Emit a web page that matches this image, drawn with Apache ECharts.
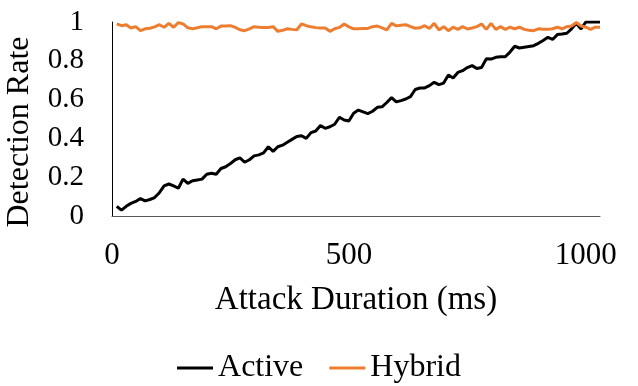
<!DOCTYPE html>
<html>
<head>
<meta charset="utf-8">
<script src="https://cdn.jsdelivr.net/npm/echarts@6/dist/echarts.min.js"></script>
<style>
  html, body { margin: 0; padding: 0; background: #fff; }
  #chart { width: 638px; height: 386px; }
</style>
</head>
<body>
<div id="chart"></div>
<script>
// Attack duration (ms), sampled every 10 ms
const durations = [
  10, 20, 30, 40, 50, 60, 70, 80, 90, 100,
  110, 120, 130, 140, 150, 160, 170, 180, 190, 200,
  210, 220, 230, 240, 250, 260, 270, 280, 290, 300,
  310, 320, 330, 340, 350, 360, 370, 380, 390, 400,
  410, 420, 430, 440, 450, 460, 470, 480, 490, 500,
  510, 520, 530, 540, 550, 560, 570, 580, 590, 600,
  610, 620, 630, 640, 650, 660, 670, 680, 690, 700,
  710, 720, 730, 740, 750, 760, 770, 780, 790, 800,
  810, 820, 830, 840, 850, 860, 870, 880, 890, 900,
  910, 920, 930, 940, 950, 960, 970, 980, 990, 1000,
  1010, 1020, 1030
];

// Detection rate of the active scheme
const activeRate = [
  0.050, 0.030, 0.050, 0.065, 0.075, 0.090, 0.078, 0.085, 0.095, 0.120,
  0.155, 0.165, 0.155, 0.143, 0.190, 0.168, 0.182, 0.186, 0.190, 0.215,
  0.220, 0.215, 0.245, 0.254, 0.270, 0.290, 0.300, 0.277, 0.290, 0.310,
  0.315, 0.325, 0.357, 0.333, 0.357, 0.365, 0.380, 0.395, 0.410, 0.414,
  0.400, 0.430, 0.438, 0.466, 0.452, 0.460, 0.473, 0.509, 0.495, 0.490,
  0.530, 0.546, 0.537, 0.528, 0.540, 0.560, 0.563, 0.585, 0.610, 0.588,
  0.595, 0.603, 0.615, 0.652, 0.660, 0.660, 0.672, 0.689, 0.677, 0.685,
  0.727, 0.711, 0.740, 0.749, 0.765, 0.775, 0.760, 0.765, 0.810, 0.809,
  0.818, 0.821, 0.821, 0.845, 0.875, 0.866, 0.870, 0.874, 0.878, 0.890,
  0.905, 0.921, 0.910, 0.935, 0.938, 0.942, 0.965, 0.993, 0.964, 1.000,
  1.000, 1.000, 1.000
];

// Detection rate of the hybrid scheme
const hybridRate = [
  0.990, 0.981, 0.986, 0.969, 0.976, 0.955, 0.965, 0.968, 0.975, 0.986,
  0.973, 0.993, 0.973, 0.997, 0.990, 0.970, 0.965, 0.970, 0.976, 0.976,
  0.976, 0.965, 0.979, 0.980, 0.981, 0.972, 0.960, 0.955, 0.965, 0.976,
  0.973, 0.972, 0.972, 0.976, 0.952, 0.957, 0.965, 0.962, 0.960, 0.990,
  0.981, 0.975, 0.971, 0.969, 0.969, 0.952, 0.965, 0.972, 0.990, 0.975,
  0.965, 0.965, 0.966, 0.967, 0.976, 0.979, 0.970, 0.959, 0.993, 0.980,
  0.983, 0.986, 0.976, 0.968, 0.970, 0.981, 0.966, 0.993, 0.959, 0.976,
  0.955, 0.973, 0.962, 0.976, 0.964, 0.969, 0.976, 0.990, 0.962, 0.993,
  0.962, 0.976, 0.962, 0.973, 0.965, 0.973, 0.962, 0.958, 0.955, 0.965,
  0.963, 0.962, 0.965, 0.973, 0.965, 0.976, 0.979, 0.997, 0.979, 0.973,
  0.962, 0.973, 0.973
];

const xTicks = [0, 500, 1000];
const seriesNames = ['Active', 'Hybrid'];
const seriesColors = ['#000000', '#ED7D31'];

const pair = (xs, ys) => xs.map((x, i) => [x, ys[i]]);
const FONT = '"Liberation Serif", "Times New Roman", serif';

const chart = echarts.init(document.getElementById('chart'), null, { renderer: 'canvas' });

chart.setOption({
  animation: false,
  backgroundColor: '#ffffff',
  textStyle: { fontFamily: FONT, color: '#000' },
  grid: {
    left: 112, right: 38, top: 22, bottom: 170,
    containLabel: false,
    outerBoundsMode: 'none'
  },
  legend: {
    bottom: -3,
    left: 'center',
    itemWidth: 36,
    itemHeight: 3,
    itemGap: 26,
    icon: 'rect',
    textStyle: { fontFamily: FONT, fontSize: 32, color: '#000' },
    data: seriesNames
  },
  xAxis: {
    type: 'value',
    min: 0,
    max: durations[durations.length - 1],
    interval: 500,
    name: 'Attack Duration (ms)',
    nameLocation: 'middle',
    nameGap: 68,
    nameTextStyle: { fontFamily: FONT, fontSize: 33, color: '#000' },
    axisLine: { show: true, lineStyle: { color: '#595959', width: 1 } },
    axisTick: { show: false },
    splitLine: { show: false },
    axisLabel: {
      fontFamily: FONT, fontSize: 31, color: '#000', margin: 24,
      showMaxLabel: false,
      formatter: v => (xTicks.includes(v) ? String(v) : '')
    }
  },
  yAxis: {
    type: 'value',
    min: 0,
    max: 1,
    interval: 0.2,
    name: 'Detection Rate',
    nameLocation: 'middle',
    nameGap: 76,
    nameTextStyle: { fontFamily: FONT, fontSize: 32, color: '#000', padding: [0, 26, 0, 0] },
    axisLine: { show: true, lineStyle: { color: '#000', width: 1 } },
    axisTick: { show: false },
    splitLine: { show: false },
    axisLabel: {
      fontFamily: FONT, fontSize: 29, color: '#000', margin: 28,
      formatter: v => String(Math.round(v * 10) / 10)
    }
  },
  series: [
    {
      name: seriesNames[0],
      type: 'line',
      data: pair(durations, activeRate),
      showSymbol: false,
      symbol: 'none',
      lineStyle: { color: seriesColors[0], width: 3 },
      itemStyle: { color: seriesColors[0] },
      z: 2
    },
    {
      name: seriesNames[1],
      type: 'line',
      data: pair(durations, hybridRate),
      showSymbol: false,
      symbol: 'none',
      lineStyle: { color: seriesColors[1], width: 3 },
      itemStyle: { color: seriesColors[1] },
      z: 3
    }
  ]
});
</script>
</body>
</html>
